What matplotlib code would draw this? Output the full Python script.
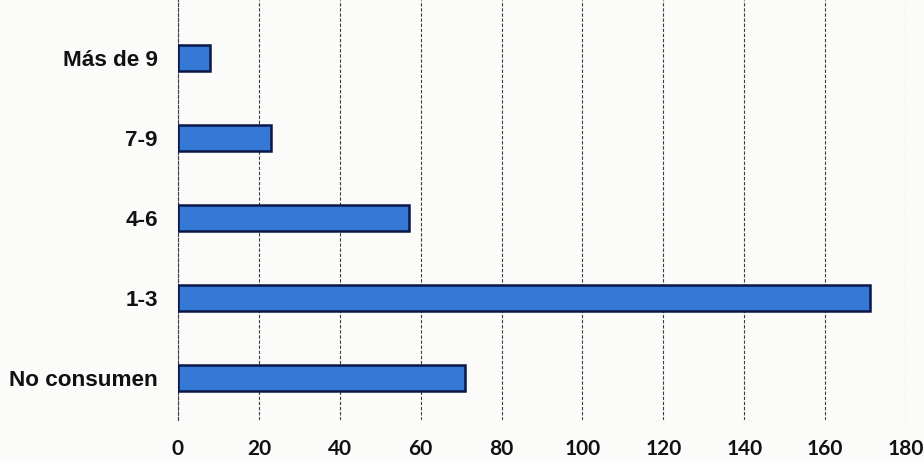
import matplotlib
matplotlib.use("Agg")
import matplotlib.pyplot as plt

# Weekly consumption frequency (bottom to top)
categories = ["No consumen", "1-3", "4-6", "7-9", "Más de 9"]
counts = [71, 171, 57, 23, 8]
x_ticks = [0, 20, 40, 60, 80, 100, 120, 140, 160, 180]

W, H, DPI = 924, 461, 100
fig = plt.figure(figsize=(W / DPI, H / DPI), dpi=DPI)
fig.patch.set_facecolor("#fbfbfa")

left, right = 178 / W, 906 / W
bottom, top = 41 / H, 1.0
ax = fig.add_axes([left, bottom, right - left, top - bottom])
ax.set_facecolor("none")

y = list(range(len(categories)))
ax.barh(y, counts, height=0.32, color="#3678d6", edgecolor="#0a1748",
        linewidth=1.8, zorder=3)

ax.set_xlim(x_ticks[0], x_ticks[-1])
ax.set_ylim(-0.525, 4.725)
ax.set_xticks(x_ticks)
ax.set_yticks(y)
ax.set_yticklabels(categories, fontfamily="Liberation Sans", fontweight="bold",
                   fontsize=16.2, color="#111111")
ax.set_xticklabels([str(v) for v in x_ticks], fontfamily="Lato",
                   fontweight="bold", fontsize=15, color="#111111")

ax.tick_params(axis="y", length=0, pad=14.4)
ax.tick_params(axis="x", length=0, pad=14)

ax.grid(axis="x", color="#3e3e3e", linestyle=(0, (3, 1.6)), linewidth=0.8,
        zorder=1)
ax.grid(axis="y", visible=False)
for side in ["top", "right", "bottom"]:
    ax.spines[side].set_visible(False)
ax.spines["left"].set_color("#3e3e3e")
ax.spines["left"].set_linestyle((0, (3, 1.6)))
ax.spines["left"].set_linewidth(0.8)

fig.savefig("out.png", dpi=DPI, facecolor=fig.get_facecolor())
